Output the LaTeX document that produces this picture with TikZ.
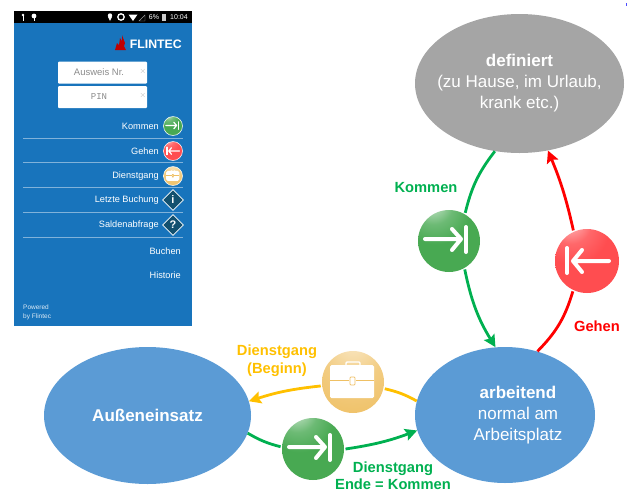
\documentclass[tikz,border=0pt]{standalone}
\usepackage{fontspec}
\setmainfont{Liberation Sans}
\setmonofont{Liberation Mono}
\usetikzlibrary{arrows.meta,shapes.geometric}
\definecolor{phoneblue}{HTML}{1874BC}
\definecolor{stateblue}{HTML}{5B9BD5}
\definecolor{stategrey}{HTML}{A5A5A5}
\definecolor{kommengreen}{HTML}{00B050}
\definecolor{gehenred}{HTML}{FF0000}
\definecolor{dienstorange}{HTML}{FFC000}
\definecolor{diamondblue}{HTML}{12506F}
\definecolor{ballgreen}{HTML}{48A952}
\definecolor{ballred}{HTML}{FF4D50}
\definecolor{ballorange}{HTML}{EFC064}
\pgfdeclareradialshading{greenball}{\pgfpoint{-15bp}{35bp}}{color(0bp)=(ballgreen!15!white); color(16bp)=(ballgreen!80!white); color(28bp)=(ballgreen); color(100bp)=(ballgreen)}
\pgfdeclareradialshading{redball}{\pgfpoint{-15bp}{35bp}}{color(0bp)=(ballred!25!white); color(16bp)=(ballred!85!white); color(28bp)=(ballred); color(100bp)=(ballred)}
\pgfdeclareradialshading{orangeball}{\pgfpoint{0bp}{35bp}}{color(0bp)=(ballorange!35!white); color(25bp)=(ballorange!80!white); color(50bp)=(ballorange); color(100bp)=(ballorange)}
\tikzset{
    statenode/.style={ellipse, inner sep=0pt},
    statetext/.style={text=white, font=\fontsize{17}{21}\selectfont, align=center, inner sep=0pt},
    iconnode/.style={circle, minimum size=#1, inner sep=0pt, outer sep=1.5pt},
    flowline/.style={line width=2.8pt},
    flowtip/.style={-{Stealth[length=12pt,width=12pt,inset=2pt]}},
    flowlabel/.style={font=\fontsize{14.7}{18}\selectfont\bfseries, align=center, inner sep=0pt},
    menulabel/.style={anchor=east, text=white, inner sep=0pt, font=\fontsize{9.2}{11}\selectfont},
    inputbox/.style={fill=white, rounded corners=1pt, minimum width=89pt, minimum height=22pt, inner sep=0pt, text=black!45, font=\fontsize{9.5}{11}\selectfont},
    barlabel/.style={text=white, inner sep=0pt, font=\fontsize{7}{8}\selectfont},
    pics/kommenmark/.style={code={
        \draw[white, line width=#1, line cap=round, line join=round] (-24,-2) -- (12,-2) (3,-12) -- (12,-2) -- (3,9);
        \draw[white, line width=#1, line cap=round] (17,-14) -- (17,11);
    }},
    pics/gehenmark/.style={code={
        \draw[white, line width=#1, line cap=round, line join=round] (22,0) -- (-14,0) (-5,-11) -- (-14,0) -- (-5,11);
        \draw[white, line width=#1, line cap=round] (-20,-13) -- (-20,12);
    }},
    pics/casemark/.style={code={
        \draw[white, line width=#1, rounded corners=1pt] (-7,-16) -- (-7,-20) -- (7,-20) -- (7,-16);
        \fill[white, rounded corners=1.5pt] (-23,-17) rectangle (21,16);
        \draw[ballorange, line width=.7pt] (-23,-2) -- (-4,-2) (3,-2) -- (21,-2);
        \draw[ballorange, line width=.7pt, rounded corners=.8pt] (-3,-5) rectangle (2,3);
    }},
}
\begin{document}
\begin{tikzpicture}[x=1pt, y=-1pt]
    \useasboundingbox (0,0) rectangle (627,491);
    \clip (0,0) rectangle (627,491);
    % phone screen
    \fill[phoneblue] (14,11) rectangle (192,326);
    \fill[black] (14,11) rectangle (192,23);
    \fill[blue!70!white] (625.5,3) rectangle (627,6);
    % status bar
    \fill[white] (23,15) circle (1.4) (34,16) circle (2.4) (110,15.5) circle (2.2);
    \draw[white, line width=.7pt] (23,15) -- (23,21) (34,16) -- (34,21);
    \fill[white] (107.8,16.5) -- (112.2,16.5) -- (110,21) -- cycle;
    \draw[white, line width=1.3pt] (121,17) circle (3.2);
    \fill[white] (128.5,14.5) -- (137.5,14.5) -- (133,21) -- cycle;
    \draw[white!60!black, line width=.4pt] (139,21) -- (145,21) -- (145,15) -- cycle;
    \fill[white!80!black] (162,14) rectangle (165.5,21);
    \node[barlabel] (percent) at (154,17.5) {6\%};
    \node[barlabel] (clock) at (179,17.5) {10:04};
    % logo
    \fill[red!75!black] (115,50) -- (117,43) -- (119,45) -- (120,38) -- (122,41) -- (122,35) -- (125,43) -- (124,46) -- (126,50) -- cycle;
    \node[anchor=east, text=white, inner sep=0pt, font=\fontsize{12.3}{14}\selectfont\bfseries] (logo) at (182,44) {FLINTEC};
    % login fields
    \node[inputbox] (ausweis) at (102.5,72.5) {\hspace{-7pt}Ausweis Nr.};
    \node[inputbox, font=\fontsize{9}{11}\selectfont\ttfamily] (pin) at (102.5,97) {\hspace{-7pt}PIN};
    \node[text=black!30, inner sep=0pt, font=\fontsize{8}{9}\selectfont] (clearausweis) at (143,71) {$\times$};
    \node[text=black!30, inner sep=0pt, font=\fontsize{8}{9}\selectfont] (clearpin) at (143,95) {$\times$};
    % menu
    \foreach \y/\t in {126/Kommen,151/Gehen,176/Dienstgang,200/Letzte Buchung,225/Saldenabfrage}
        \node[menulabel] at (159,\y) {\t};
    \foreach \y in {138,162,187,212,237}
        \draw[white!45!phoneblue, line width=.5pt] (23,\y) -- (183,\y);
    \node[menulabel] (buchen) at (181,251) {Buchen};
    \node[menulabel] (historie) at (181,275) {Historie};
    \node[iconnode=19pt, shading=greenball, draw=white, line width=.5pt] (menukommen) at (173,126) {};
    \pic[scale=.3] at (menukommen) {kommenmark=1.2pt};
    \node[iconnode=19pt, shading=redball, draw=white, line width=.5pt] (menugehen) at (173,151) {};
    \pic[scale=.3] at (menugehen) {gehenmark=1.2pt};
    \node[iconnode=19pt, shading=orangeball, draw=white, line width=.5pt] (menudienst) at (173,176) {};
    \pic[scale=.3] at (menudienst) {casemark=.4pt};
    \foreach \y/\t in {200/i,225/?}
        \node[diamond, aspect=1.05, fill=diamondblue, draw=white, line width=.8pt, inner sep=0pt, minimum size=21pt, text=white, font=\fontsize{11}{12}\selectfont\bfseries] at (173,\y) {\t};
    \node[anchor=west, text=white!85!phoneblue, align=left, inner sep=0pt, font=\fontsize{6.5}{8.5}\selectfont] (powered) at (23,312.5) {Powered\\by Flintec};
    % states
    \node[statenode, fill=stategrey, minimum width=209pt, minimum height=139pt] (definiert) at (519.5,83.5) {};
    \node[statetext] (definierttext) at (definiert) {\textbf{definiert}\\(zu Hause, im Urlaub,\\krank etc.)};
    \node[statenode, fill=stateblue, minimum width=180pt, minimum height=136pt] (arbeitend) at (505,415) {};
    \node[statetext] (arbeitendtext) at (518,415) {\textbf{arbeitend}\\normal am\\Arbeitsplatz};
    \node[statenode, fill=stateblue, minimum width=207pt, minimum height=137pt] (aussen) at (147.5,415.5) {};
    \node[statetext] (aussentext) at (aussen) {\textbf{Außeneinsatz}};
    % icons
    \node[iconnode=62pt, shading=greenball] (kommen) at (449,241) {};
    \pic at (kommen) {kommenmark=4pt};
    \node[iconnode=64pt, shading=redball] (gehen) at (587,261) {};
    \pic at (gehen) {gehenmark=4pt};
    \node[iconnode=62pt, shading=orangeball] (dienst) at (353,382) {};
    \pic at (dienst) {casemark=1.4pt};
    \node[iconnode=62pt, shading=greenball] (ende) at (313,449) {};
    \pic at (ende) {kommenmark=4pt};
    % connectors
    \draw[flowline, kommengreen] (definiert.250) to[bend right=12] (kommen.60);
    \draw[flowline, kommengreen, flowtip] (kommen.299) to[bend right=10] (arbeitend.98);
    \draw[flowline, gehenred] (arbeitend.63) to[bend right=14] (gehen.245);
    \draw[flowline, gehenred, flowtip] (gehen.114) to[bend right=5] (definiert.293);
    \draw[flowline, dienstorange] (arbeitend.171) to[bend right=8] (dienst.348);
    \draw[flowline, dienstorange, flowtip] (dienst.187) to[bend right=6] (aussen.8);
    \draw[flowline, kommengreen] (aussen.350) to[bend right=8] (ende.176);
    \draw[flowline, kommengreen, flowtip] (ende.0) to[bend right=6] (arbeitend.190);
    % labels
    \node[flowlabel, text=kommengreen] (kommentext) at (426,188) {Kommen};
    \node[flowlabel, text=gehenred] (gehentext) at (597,326) {Gehen};
    \node[flowlabel, text=dienstorange] (begintext) at (277,361) {Dienstgang\\(Beginn)};
    \node[flowlabel, text=kommengreen, font=\fontsize{14.7}{17}\selectfont\bfseries] (endetext) at (393,475.5) {Dienstgang\\Ende = Kommen};
\end{tikzpicture}
\end{document}
